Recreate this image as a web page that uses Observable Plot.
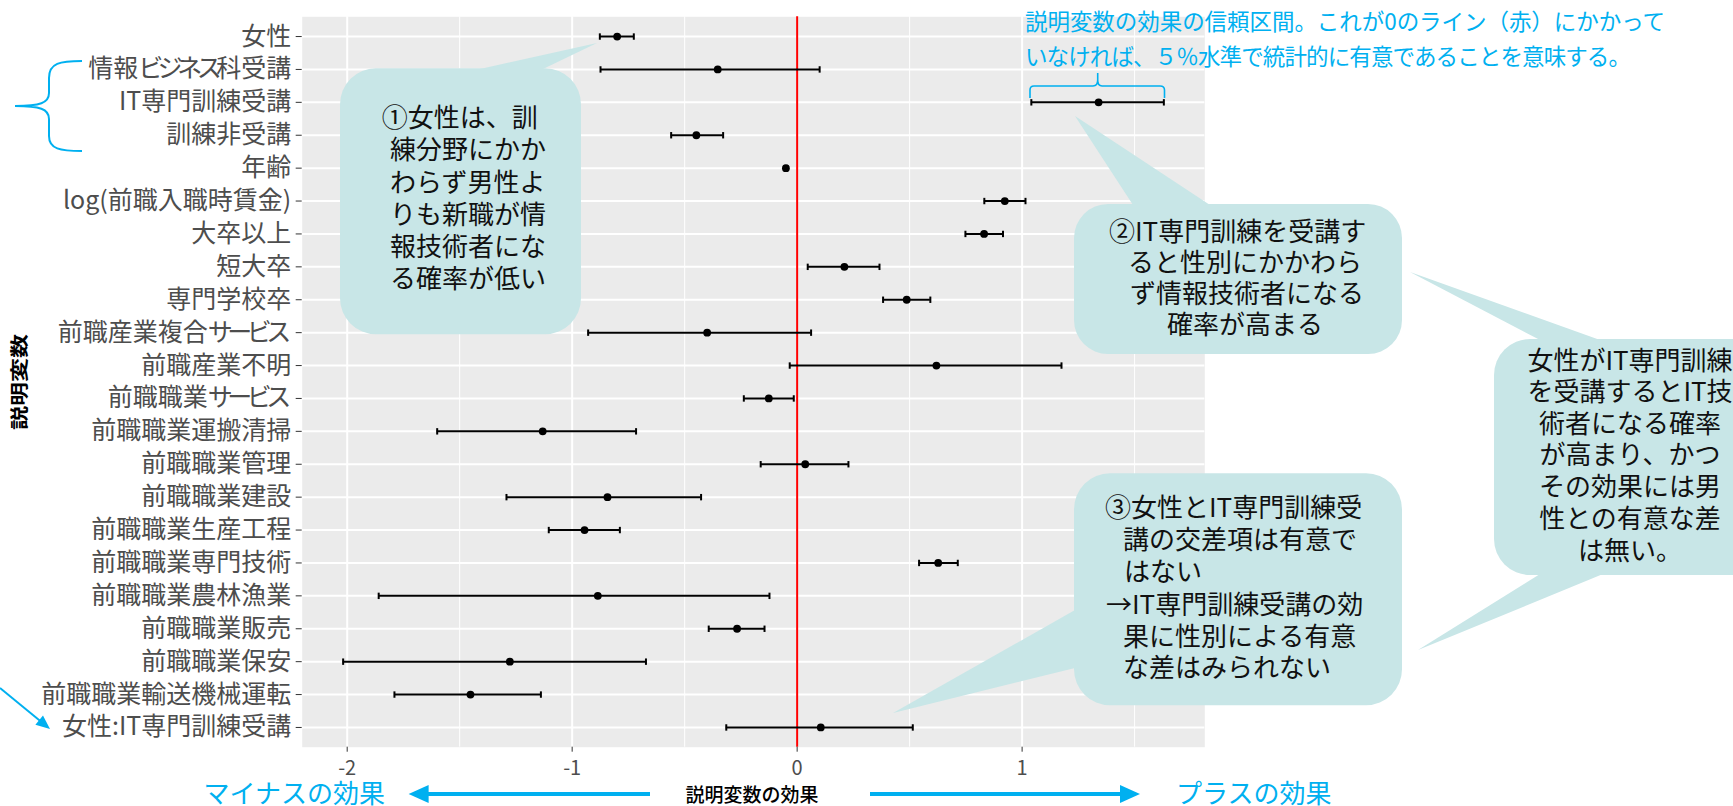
<!DOCTYPE html>
<html>
<head>
<meta charset="utf-8">
<script src="https://cdn.jsdelivr.net/npm/d3@7"></script>
<script src="https://cdn.jsdelivr.net/npm/@observablehq/plot@0.6"></script>
<style>
  html, body { margin: 0; padding: 0; background: #fff; overflow: hidden; }
  #chart { width: 1733px; height: 806px; }
</style>
</head>
<body>
<div id="chart"></div>
<script>
// ---- data ----
const labels = [
  "女性", "情報ビジネス科受講", "IT専門訓練受講", "訓練非受講", "年齢",
  "log(前職入職時賃金)", "大卒以上", "短大卒", "専門学校卒", "前職産業複合サービス",
  "前職産業不明", "前職職業サービス", "前職職業運搬清掃", "前職職業管理", "前職職業建設",
  "前職職業生産工程", "前職職業専門技術", "前職職業農林漁業", "前職職業販売", "前職職業保安",
  "前職職業輸送機械運転", "女性:IT専門訓練受講"
];
const estimate = [-0.800, -0.353, 1.340, -0.448, -0.050, 0.923, 0.831, 0.210, 0.487, -0.400,
  0.619, -0.126, -1.131, 0.036, -0.843, -0.945, 0.627, -0.886, -0.267, -1.277, -1.452, 0.105];
const lower = [-0.877, -0.874, 1.041, -0.560, -0.056, 0.832, 0.748, 0.047, 0.382, -0.929,
  -0.033, -0.237, -1.600, -0.162, -1.292, -1.104, 0.542, -1.860, -0.393, -2.018, -1.790, -0.315];
const upper = [-0.726, 0.100, 1.630, -0.329, -0.044, 1.015, 0.915, 0.366, 0.592, 0.062,
  1.175, -0.015, -0.716, 0.228, -0.427, -0.788, 0.714, -0.123, -0.145, -0.672, -1.139, 0.514];
const xTicks = [-2, -1, 0, 1];
const xMinorTicks = [-1.5, -0.5, 0.5, 1.5];
const xDomain = [-2.2, 1.812];

const rows = labels.map((label, i) => ({label, est: estimate[i], lo: lower[i], hi: upper[i]}));

const FONT = "'Noto Sans CJK JP', 'Noto Sans', sans-serif";
const capSymbol = {
  draw(context, size) {
    const r = Math.sqrt(size / Math.PI);
    context.moveTo(0, -r);
    context.lineTo(0, r);
  }
};

const svg = Plot.plot({
  width: 1733,
  height: 806,
  marginLeft: 301.7,
  marginRight: 528.7,
  marginTop: 16.3,
  marginBottom: 59.3,
  style: {fontFamily: FONT, background: "#fff", overflow: "visible"},
  x: {domain: xDomain},
  y: {domain: labels, type: "point", padding: 0.6, round: false},
  marks: [
    Plot.frame({fill: "#EBEBEB", stroke: "none"}),
    Plot.ruleX(xMinorTicks, {stroke: "#fff", strokeWidth: 1}),
    Plot.ruleX(xTicks, {stroke: "#fff", strokeWidth: 2}),
    Plot.ruleY(labels, {stroke: "#fff", strokeWidth: 2}),
    Plot.ruleX([0], {stroke: "#FF0000", strokeWidth: 2}),
    Plot.ruleY(rows, {y: "label", x1: "lo", x2: "hi", stroke: "#000", strokeWidth: 2}),
    Plot.dot(rows, {x: "lo", y: "label", r: 3.2, symbol: capSymbol, stroke: "#000", strokeWidth: 2}),
    Plot.dot(rows, {x: "hi", y: "label", r: 3.2, symbol: capSymbol, stroke: "#000", strokeWidth: 2}),
    Plot.dot(rows, {x: "est", y: "label", r: 3.9, fill: "#000", stroke: "none"}),
    Plot.axisY({tickSize: 6, tickPadding: 5, fontSize: 25, fill: "#4D4D4D", stroke: "#333", label: null}),
    Plot.axisX({ticks: xTicks, tickFormat: d => String(d), tickSize: 5, tickPadding: 9, fontSize: 20,
      fill: "#4D4D4D", stroke: "#333", label: null})
  ]
});
document.getElementById("chart").appendChild(svg);

// tighten kana in y tick labels (the reference font sets kana proportionally)
const kanaRe = /([\u3040-\u30FF]+)/;
d3.select(svg).selectAll('g[aria-label="y-axis tick label"] text').each(function () {
  const t = this.textContent;
  if (!kanaRe.test(t)) return;
  const sel = d3.select(this);
  sel.text(null);
  const parts = t.split(kanaRe).filter(s => s.length);
  parts.forEach((part, i) => {
    if (!kanaRe.test(part)) { sel.append("tspan").text(part); return; }
    const isLast = i === parts.length - 1;
    const body = isLast ? part.slice(0, -1) : part;
    if (body.length) sel.append("tspan").attr("letter-spacing", "-5.5px").text(body);
    if (isLast) sel.append("tspan").text(part.slice(-1));
  });
});

// ---- annotations overlay ----
const g = d3.select(svg).append("g").attr("font-family", FONT);
const BUBBLE = "#C8E6E7";
const BLUE = "#00B0F0";
const INK = "#111";

function bubble(x, y, w, h, r, tail) {
  g.append("polygon").attr("points", tail.map(p => p.join(",")).join(" ")).attr("fill", BUBBLE);
  g.append("rect").attr("x", x).attr("y", y).attr("width", w).attr("height", h)
    .attr("rx", r).attr("ry", r).attr("fill", BUBBLE);
}
function lines(list, size, anchor, fill) {
  return list.map(([t, x, y]) =>
    g.append("text").attr("x", x).attr("y", y).attr("dy", "0.36em")
      .attr("font-size", size).attr("text-anchor", anchor).attr("fill", fill).text(t));
}
function arrow(x1, y1, x2, y2, w, headLen, headW, color) {
  const dx = x2 - x1, dy = y2 - y1, L = Math.hypot(dx, dy);
  const ux = dx / L, uy = dy / L, nx = -uy, ny = ux;
  const bx = x2 - ux * headLen, by = y2 - uy * headLen;
  g.append("line").attr("x1", x1).attr("y1", y1).attr("x2", bx + ux).attr("y2", by + uy)
    .attr("stroke", color).attr("stroke-width", w);
  g.append("polygon").attr("points", [
    [x2, y2], [bx + nx * headW / 2, by + ny * headW / 2], [bx - nx * headW / 2, by - ny * headW / 2]
  ].map(p => p.join(",")).join(" ")).attr("fill", color);
}

// bubble 1
bubble(340, 68.3, 241, 266, 36, [[480, 69], [543, 69], [597, 43]]);
lines([
  ["①女性は、訓", 381.7, 118],
  ["練分野にかか", 390, 150],
  ["わらず男性よ", 390, 183],
  ["りも新職が情", 390, 215],
  ["報技術者にな", 390, 247],
  ["る確率が低い", 390, 279]
], 26, "start", INK);

// bubble 2
bubble(1074, 204, 328, 150, 34, [[1133, 205], [1210, 205], [1075, 116]]);
lines([
  ["②IT専門訓練を受講す", 1109, 231.7],
  ["ると性別にかかわら", 1128, 262.7],
  ["ず情報技術者になる", 1130, 293.3],
  ["確率が高まる", 1167, 325]
], 26, "start", INK);

// bubble 3
bubble(1074, 473.3, 328, 232, 36, [[1075, 610], [1075, 668], [893, 713]]);
lines([
  ["③女性とIT専門訓練受", 1105, 508],
  ["講の交差項は有意で", 1123, 540],
  ["はない", 1124, 572],
  ["→IT専門訓練受講の効", 1106, 605],
  ["果に性別による有意", 1123, 637],
  ["な差はみられない", 1123, 668]
], 26, "start", INK);

// bubble 4 (runs off the right edge)
bubble(1494, 339, 280, 236, 36, [[1410, 272], [1540, 340], [1600, 340]]);
g.append("polygon").attr("points", "1540,574 1603,574 1418,650").attr("fill", BUBBLE);
lines([
  ["女性がIT専門訓練", 1630, 361],
  ["を受講するとIT技", 1630, 391.7],
  ["術者になる確率", 1630, 423.3],
  ["が高まり、かつ", 1630, 455],
  ["その効果には男", 1630, 486.7],
  ["性との有意な差", 1630, 518.3],
  ["は無い。", 1630, 550.7]
], 26, "middle", INK);

// blue explanatory text + bracket
const blueLines = lines([
  ["説明変数の効果の信頼区間。これが0のライン（赤）にかかって", 1025, 21.7],
  ["いなければ、５％水準で統計的に有意であることを意味する。", 1025, 56.7]
], 22.5, "start", BLUE);
blueLines[0].attr("textLength", 640).attr("lengthAdjust", "spacing");
blueLines[1].attr("textLength", 606).attr("lengthAdjust", "spacing");
g.append("path")
  .attr("d", "M1030,98 L1030,90 Q1030,86 1034,86 L1093,86 Q1097.7,86 1097.7,80 L1097.7,73 M1097.7,80 Q1097.7,86 1102,86 L1160,86 Q1164.5,86 1164.5,90 L1164.5,98")
  .attr("fill", "none").attr("stroke", BLUE).attr("stroke-width", 1.6);

// left brace around the three training rows
g.append("path")
  .attr("d", "M82,61 C60,61 49,63 49,78 L49,93 C49,103 40,106 15,106 C40,106 49,109 49,119 L49,136 C49,149 60,151 82,151")
  .attr("fill", "none").attr("stroke", BLUE).attr("stroke-width", 2);

// arrow to interaction term
arrow(0, 688, 50, 729, 2, 14, 12, BLUE);

// bottom axis annotations
arrow(650, 794, 408.6, 794, 4, 20, 18, BLUE);
arrow(870, 794, 1140, 794, 4, 20, 18, BLUE);
lines([["マイナスの効果", 385, 794]], 26, "end", BLUE);
lines([["プラスの効果", 1176, 794]], 26, "start", BLUE);
g.append("text").attr("x", 752).attr("y", 795).attr("dy", "0.36em").attr("text-anchor", "middle")
  .attr("font-size", 19).attr("font-weight", 500).attr("fill", "#000").text("説明変数の効果");

// y axis title
g.append("text").attr("transform", "translate(19,382) rotate(-90) scale(1,0.78)")
  .attr("dy", "0.36em").attr("text-anchor", "middle").attr("font-size", 24)
  .attr("font-weight", 700).attr("fill", "#000").text("説明変数");
</script>
</body>
</html>
